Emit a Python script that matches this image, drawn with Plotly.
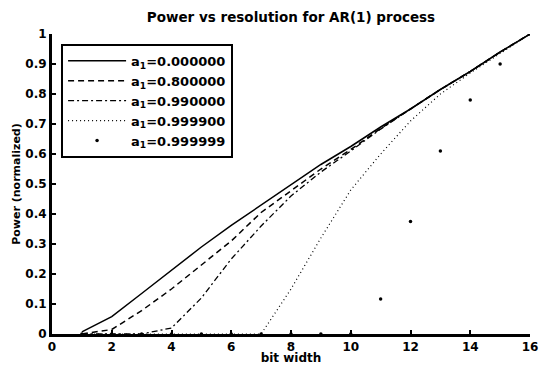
import plotly.graph_objects as go

bits = list(range(1, 17))
p_a0 = [0.007, 0.058, 0.135, 0.213, 0.29, 0.362, 0.43, 0.5, 0.565, 0.625, 0.69, 0.75, 0.815, 0.875, 0.94, 1.0]
p_a08 = [0.0, 0.015, 0.078, 0.15, 0.23, 0.31, 0.405, 0.478, 0.55, 0.615, 0.685, 0.75, 0.815, 0.875, 0.94, 1.0]
p_a099 = [0.0, 0.0, 0.0, 0.02, 0.12, 0.25, 0.36, 0.46, 0.54, 0.61, 0.683, 0.75, 0.815, 0.875, 0.94, 1.0]
p_a09999 = [0.0, 0.0, 0.0, 0.0, 0.0, 0.0, 0.0, 0.15, 0.32, 0.48, 0.60, 0.71, 0.80, 0.87, 0.935, 1.0]
p_a0999999 = [0.0, 0.0, 0.0, 0.0, 0.0, 0.0, 0.0, 0.0, 0.0, 0.0, 0.117, 0.375, 0.61, 0.78, 0.90, 1.0]
labels = ["0.000000", "0.800000", "0.990000", "0.999900", "0.999999"]
x_ticks = [0, 2, 4, 6, 8, 10, 12, 14, 16]
y_ticks = [0, 0.1, 0.2, 0.3, 0.4, 0.5, 0.6, 0.7, 0.8, 0.9, 1]
y_tick_text = ["0", "0.1", "0.2", "0.3", "0.4", "0.5", "0.6", "0.7", "0.8", "0.9", "1"]

FONT = "DejaVu Sans"
fig = go.Figure()
styles = [("solid", 1.5), ("6px,4px", 1.5), ("6px,3px,2px,3px", 1.3), ("1px,3px", 1.2)]
series = [p_a0, p_a08, p_a099, p_a09999]
for ys, lab, (dash, w) in zip(series, labels, styles):
    fig.add_trace(go.Scatter(x=bits, y=ys, mode="lines",
                             line=dict(color="black", dash=dash, width=w),
                             name="<b>a<sub>1</sub>=" + lab + "</b>"))
fig.add_trace(go.Scatter(x=bits, y=p_a0999999, mode="markers",
                         marker=dict(color="black", size=3.5),
                         name="<b>a<sub>1</sub>=" + labels[4] + "</b>"))

fig.update_layout(
    width=539, height=365,
    margin=dict(l=52, r=9, t=34, b=31, autoexpand=False),
    paper_bgcolor="white", plot_bgcolor="white",
    font=dict(family=FONT, color="black", size=12),
    title=dict(text="<b>Power vs resolution for AR(1) process</b>", xref="paper", x=0.5,
               xanchor="center", y=0.953, yanchor="middle",
               font=dict(size=13.5, family=FONT)),
    showlegend=True,
    legend=dict(x=0.019, y=0.967, xanchor="left", yanchor="top",
                bgcolor="white", bordercolor="black", borderwidth=2,
                font=dict(size=13, family=FONT),
                tracegroupgap=0, itemwidth=58),
    xaxis=dict(range=[0, 16], tickvals=x_ticks, ticktext=["<b>%d</b>" % v for v in x_ticks],
               ticks="inside", ticklen=4, ticklabeloverflow="allow", automargin=False,
               tickwidth=2, tickcolor="black", showline=True, linewidth=3, layer="above traces",
               linecolor="black", showgrid=False, zeroline=False,
               title=dict(text="<b>bit width</b>", standoff=0, font=dict(size=12)),
               tickfont=dict(size=12)),
    yaxis=dict(range=[0, 1], tickvals=y_ticks, ticktext=["<b>%s</b>" % t for t in y_tick_text],
               ticks="inside", layer="above traces", automargin=False,
               ticklen=4, tickwidth=2, tickcolor="black", showline=True, linewidth=3,
               linecolor="black", showgrid=False, zeroline=False,
               title=dict(text="<b>Power (normalized)</b>", standoff=3, font=dict(size=11)),
               tickfont=dict(size=12)),
)
fig.write_html("out.html")
